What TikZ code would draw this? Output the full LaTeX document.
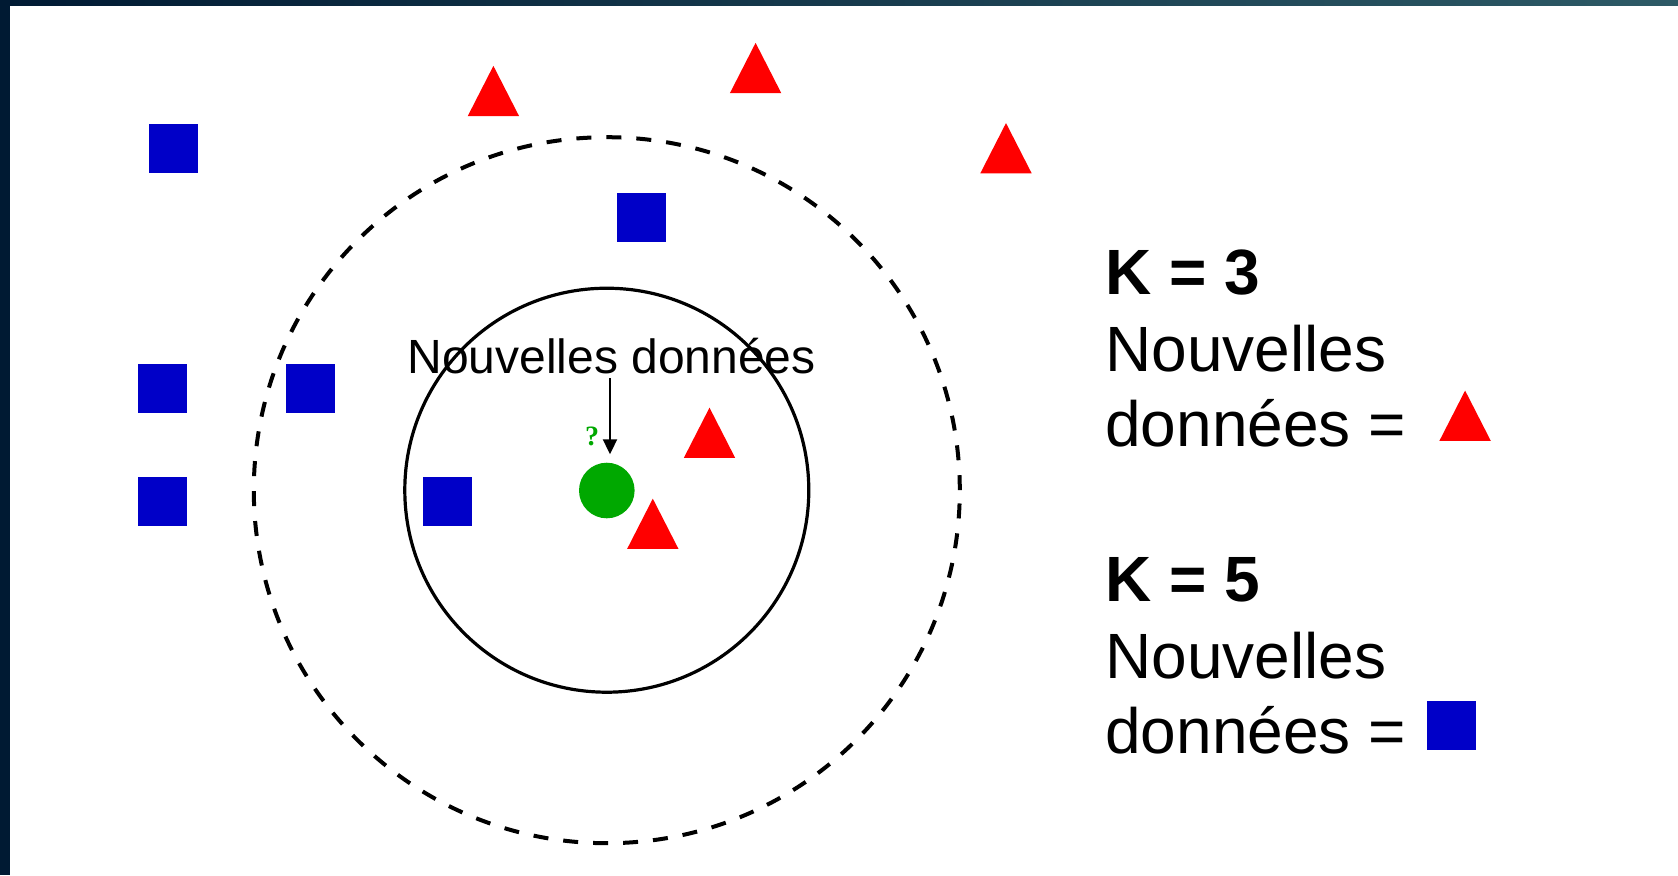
\documentclass[tikz,border=0pt]{standalone}
\usepackage{fontspec}
\setmainfont{Liberation Sans}
\newfontfamily\qfont{Liberation Serif}
\usetikzlibrary{arrows.meta}
\definecolor{sqblue}{RGB}{0,0,200}
\definecolor{trired}{RGB}{255,0,0}
\definecolor{ptgreen}{RGB}{0,168,0}
\definecolor{navy}{RGB}{0,26,51}
\definecolor{tealband}{RGB}{45,90,102}
\begin{document}
\begin{tikzpicture}[x=0.5pt,y=-0.5pt,
  sq/.style={fill=sqblue,minimum size=24.5pt,inner sep=0pt,draw=none},
  tri/.pic={\fill[trired] (-25.7,25.15) -- (25.7,25.15) -- (0,-25.15) -- cycle;},
  ptnode/.style={circle,fill=ptgreen,minimum size=27.8pt,inner sep=0pt,draw=none},
  lbl/.style={font=\fontsize{24}{28}\selectfont,inner sep=0pt,anchor=base},
  big/.style={font=\fontsize{32}{38}\selectfont,inner sep=0pt,anchor=base west},
  bigb/.style={font=\fontsize{32}{38}\selectfont\bfseries,inner sep=0pt,anchor=base west}]
\useasboundingbox (0,0) rectangle (1678,875);
\fill[white] (0,0) rectangle (1678,875);
% frame bands
\shade[left color=navy,right color=tealband] (0,0) rectangle (1678,5);
\fill[navy] (0,0) rectangle (10,875);
% circles
\node[circle,draw,line width=1.6pt,minimum size=202pt,inner sep=0pt] (inner) at (606.8,490.2) {};
\node[circle,draw,line width=2pt,dash pattern=on 7.5pt off 7.5pt,minimum size=353pt,inner sep=0pt] (outer) at (606.8,490.2) {};
% blue squares
\node[sq] (b1) at (173.4,148.8) {};
\node[sq] (b2) at (641.0,217.2) {};
\node[sq] (b3) at (162.7,388.5) {};
\node[sq] (b4) at (310.4,388.5) {};
\node[sq] (b5) at (162.7,501.9) {};
\node[sq] (b6) at (447.3,501.9) {};
% red triangles
\pic at (493.4,91) {tri};
\pic at (755.6,68) {tri};
\pic at (1006,148.2) {tri};
\pic at (709.5,432.8) {tri};
\pic at (652.8,523.8) {tri};
% new point
\node[ptnode] (new) at (606.8,490.5) {};
\node[text=ptgreen,font=\qfont\bfseries\fontsize{14}{16}\selectfont,inner sep=0pt] (q) at (592,436) {?};
\node[lbl] (label) at (611.5,373) {Nouvelles données};
\coordinate (astart) at (610,378);
\draw[line width=1pt,-{Triangle[length=7.5pt,width=7pt]},shorten >=4pt] (astart) -- (astart |- new.north);
% legend
\node[bigb] (k3) at (1105,294) {K = 3};
\node[big] (n3) at (1105,371.5) {Nouvelles};
\node[big] (d3) at (1105,446.5) {données =};
\pic at (1465.1,415.7) {tri};
\node[bigb] (k5) at (1105,601.5) {K = 5};
\node[big] (n5) at (1105,678.5) {Nouvelles};
\node[big] (d5) at (1105,753.5) {données =};
\node[sq] (bl) at (1451.2,725.6) {};
\end{tikzpicture}
\end{document}
